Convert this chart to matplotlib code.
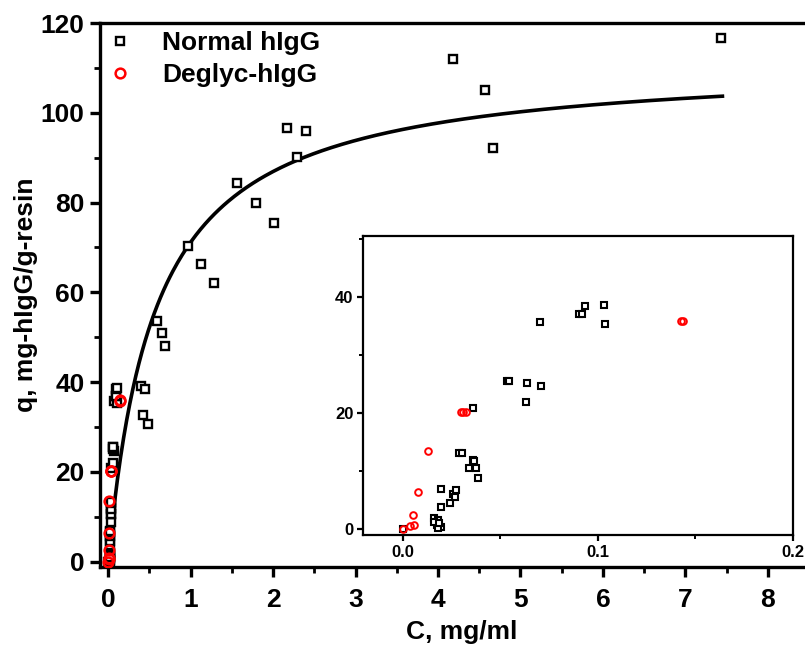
import matplotlib
matplotlib.use("Agg")
import matplotlib.pyplot as plt
import numpy as np
from matplotlib.ticker import MultipleLocator, FormatStrFormatter

plt.rcParams['font.family'] = ['Liberation Sans', 'DejaVu Sans']
plt.rcParams['font.weight'] = 'bold'

# Equilibrium adsorption data: liquid concentration C (mg/ml) vs bound q (mg/g resin)
normal_c = [0, 0.0173, 0.0193, 0.0178, 0.0157, 0.0181, 0.0159, 0.0183, 0.0195,
            0.0243, 0.0258, 0.0265, 0.0273, 0.0195, 0.0385, 0.0340, 0.0373,
            0.0361, 0.0362, 0.0289, 0.0303, 0.0361, 0.0631, 0.0709, 0.0637,
            0.0532, 0.0545, 0.0704, 0.1036, 0.0901, 0.0920, 0.0933, 0.1029,
            0.40, 0.45, 0.42, 0.485, 0.59, 0.65, 0.69, 0.97, 1.13, 1.28,
            1.56, 1.79, 2.01, 2.17, 2.29, 2.40, 4.18, 4.57, 4.67, 7.43]
normal_q = [0, 0.7, 0.45, 0.2, 1.9, 1.5, 1.2, 1.1, 3.8,
            4.5, 6.0, 5.6, 6.7, 6.9, 8.8, 10.6, 10.5,
            11.9, 11.7, 13.1, 13.2, 20.8, 21.9, 24.6, 25.1,
            25.5, 25.5, 35.7, 35.4, 37.0, 37.0, 38.5, 38.7,
            39.2, 38.5, 32.7, 30.7, 53.7, 50.9, 48.1, 70.4, 66.3, 62.1,
            84.4, 79.8, 75.4, 96.7, 90.1, 95.9, 112.0, 105.1, 92.2, 116.7]

deglyc_c = [0, 0.0038, 0.0055, 0.0053, 0.0079, 0.0130, 0.0296, 0.0310, 0.0323,
            0.1426, 0.1434]
deglyc_q = [0, 0.5, 0.7, 2.5, 6.4, 13.5, 20.2, 20.2, 20.1, 35.9, 35.8]

# Langmuir fit parameters for normal hIgG
q_max = 111.6
k_d = 0.568
c_fit_max = 7.45

W, H = 805, 646
fig = plt.figure(figsize=(W / 100, H / 100), dpi=100)

ax = fig.add_axes([100 / W, (H - 567) / H, (809 - 100) / W, (567 - 23) / H])
c_fit = np.linspace(0, c_fit_max, 400)
ax.plot(c_fit, q_max * c_fit / (k_d + c_fit), color='black', lw=2.6, zorder=2)
ax.plot(normal_c, normal_q, ls='none', marker='s', ms=6.0, mfc='white',
        mec='black', mew=1.7, label='Normal hIgG', zorder=3)
ax.plot(deglyc_c, deglyc_q, ls='none', marker='o', ms=7.0, mfc='none',
        mec='red', mew=1.8, label='Deglyc-hIgG', zorder=4)

ax.set_xlim(-0.1, 8.5)
ax.set_ylim(-1.2, 120)
ax.xaxis.set_major_locator(MultipleLocator(1))
ax.xaxis.set_minor_locator(MultipleLocator(0.5))
ax.yaxis.set_major_locator(MultipleLocator(20))
ax.yaxis.set_minor_locator(MultipleLocator(10))
for s in ['left', 'bottom', 'top']:
    ax.spines[s].set_linewidth(2.4)
ax.spines['right'].set_visible(False)
ax.tick_params(axis='x', which='major', pad=8)
ax.tick_params(axis='y', which='major', pad=4)
ax.tick_params(which='major', direction='out', length=7, width=2.4,
               labelsize=19)
ax.tick_params(which='minor', direction='out', length=4, width=2.0)
ax.tick_params(top=False, right=False, which='both')
for lbl in ax.get_xticklabels() + ax.get_yticklabels():
    lbl.set_fontweight('bold')

ax.set_xlabel('C, mg/ml', fontsize=19, fontweight='bold')
ax.set_ylabel('q, mg-hIgG/g-resin', fontsize=19, fontweight='bold')
ax.xaxis.set_label_coords(0.51, -0.097)
ax.yaxis.set_label_coords(-0.088, 0.5)

leg = ax.legend(loc='upper left', bbox_to_anchor=(107 / W, 1 - 31 / H),
                bbox_transform=fig.transFigure, frameon=False,
                fontsize=19, handlelength=1.0, handletextpad=1.1,
                borderpad=0.0, labelspacing=0.3, borderaxespad=0.0)
for t in leg.get_texts():
    t.set_fontweight('bold')

# Inset: low-concentration region
ins = fig.add_axes([363 / W, (H - 535) / H, (793 - 363) / W, (535 - 236) / H])
ins.plot(normal_c, normal_q, ls='none', marker='s', ms=4.6, mfc='white',
         mec='black', mew=1.5, zorder=3)
ins.plot(deglyc_c, deglyc_q, ls='none', marker='o', ms=4.8, mfc='none',
         mec='red', mew=1.4, zorder=4)
ins.set_xlim(-0.0205, 0.2)
ins.set_ylim(-1.0, 50.5)
ins.xaxis.set_major_locator(MultipleLocator(0.1))
ins.xaxis.set_minor_locator(MultipleLocator(0.05))
ins.yaxis.set_major_locator(MultipleLocator(20))
ins.yaxis.set_minor_locator(MultipleLocator(10))
ins.xaxis.set_major_formatter(FormatStrFormatter('%.1f'))
for s in ins.spines.values():
    s.set_linewidth(1.6)
ins.tick_params(which='major', direction='out', length=4, width=1.6,
                labelsize=12, pad=3)
ins.tick_params(which='minor', direction='out', length=3, width=1.4)
ins.tick_params(top=False, right=False, which='both')
for lbl in ins.get_xticklabels() + ins.get_yticklabels():
    lbl.set_fontweight('bold')

fig.savefig('out.png', dpi=100)
